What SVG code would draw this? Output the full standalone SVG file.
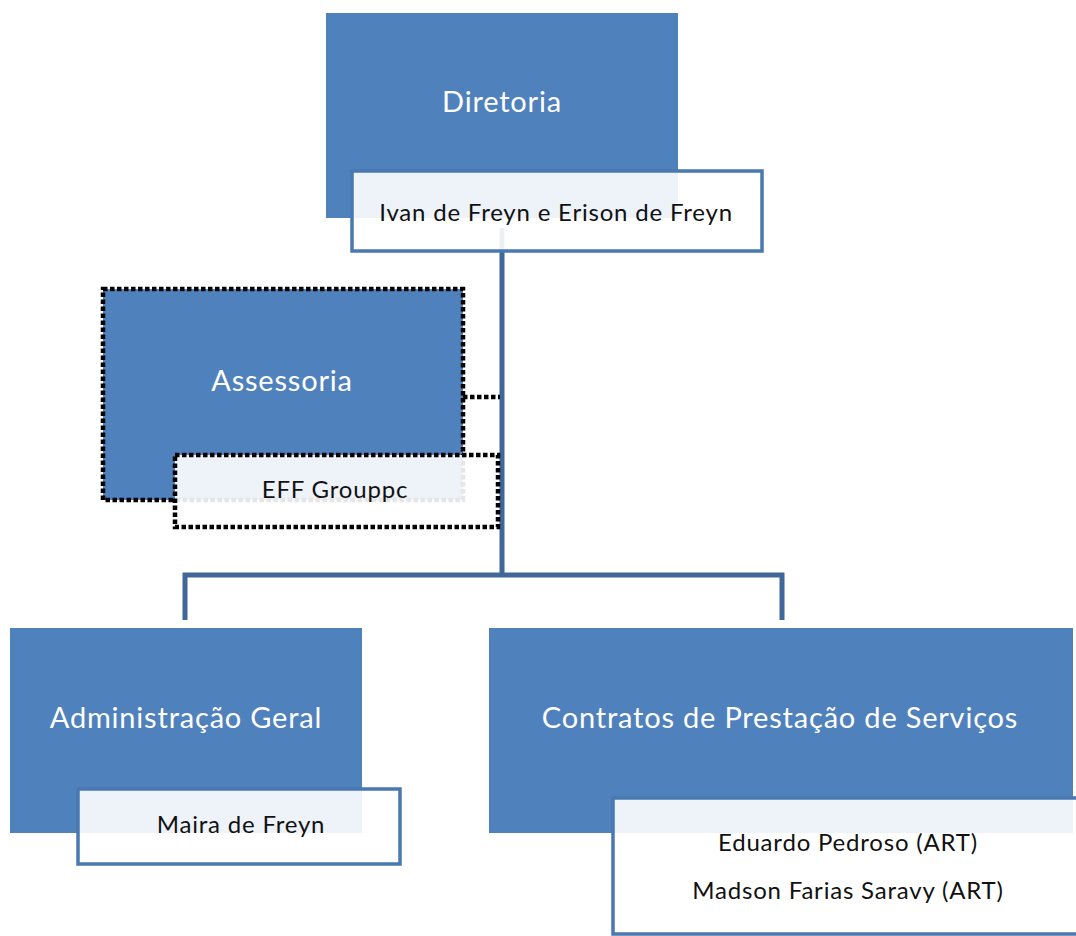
<svg xmlns="http://www.w3.org/2000/svg" width="1076" height="936" viewBox="0 0 1076 936">
<style>
.main{fill:#4f81bd;}
.sub{fill:#ffffff;fill-opacity:0.9;stroke:#4a78b0;stroke-width:3.5;}
.dot{stroke:#000;stroke-width:4.5;stroke-dasharray:4.5 2.5;fill:none;}
.subdot{fill:#ffffff;fill-opacity:0.9;stroke:#000;stroke-width:4.5;stroke-dasharray:4.5 2.5;}
.conn{stroke:#41669a;stroke-width:5;fill:none;}
.t1{font-family:Lato,"Open Sans",sans-serif;font-size:29px;letter-spacing:0.8px;fill:#ffffff;text-anchor:middle;}
.t2{font-family:Lato,"Open Sans",sans-serif;font-size:24px;letter-spacing:0.8px;fill:#111111;text-anchor:middle;}
</style>
<rect width="1076" height="936" fill="#ffffff"/>
<g id="connectors">
<path class="conn" d="M502 228 V577"/>
<path class="conn" d="M185 620 V575 H782 V620"/>
<path class="dot" d="M463 397 H500"/>
</g>
<g id="diretoria">
<rect class="main" x="326" y="13" width="352" height="205"/>
<text class="t1" x="502" y="112">Diretoria</text>
<rect class="sub" x="352" y="171" width="410" height="80"/>
<text class="t2" x="556" y="221">Ivan de Freyn e Erison de Freyn</text>
</g>
<g id="assessoria">
<rect class="main" x="103" y="289" width="360" height="211"/>
<rect class="dot" x="103" y="289" width="360" height="211"/>
<text class="t1" x="282" y="391">Assessoria</text>
<rect class="subdot" x="175" y="455" width="323" height="72"/>
<text class="t2" x="335" y="498">EFF Grouppc</text>
</g>
<g id="administracao">
<rect class="main" x="10" y="628" width="352" height="205"/>
<text class="t1" x="186" y="728">Administração Geral</text>
<rect class="sub" x="78" y="789" width="322" height="75"/>
<text class="t2" x="241" y="833">Maira de Freyn</text>
</g>
<g id="contratos">
<rect class="main" x="489" y="628" width="584" height="205"/>
<text class="t1" x="780" y="728">Contratos de Prestação de Serviços</text>
<rect class="sub" x="613" y="798" width="470" height="136"/>
<text class="t2" x="848" y="851">Eduardo Pedroso (ART)</text>
<text class="t2" x="848" y="899">Madson Farias Saravy (ART)</text>
</g>
</svg>
